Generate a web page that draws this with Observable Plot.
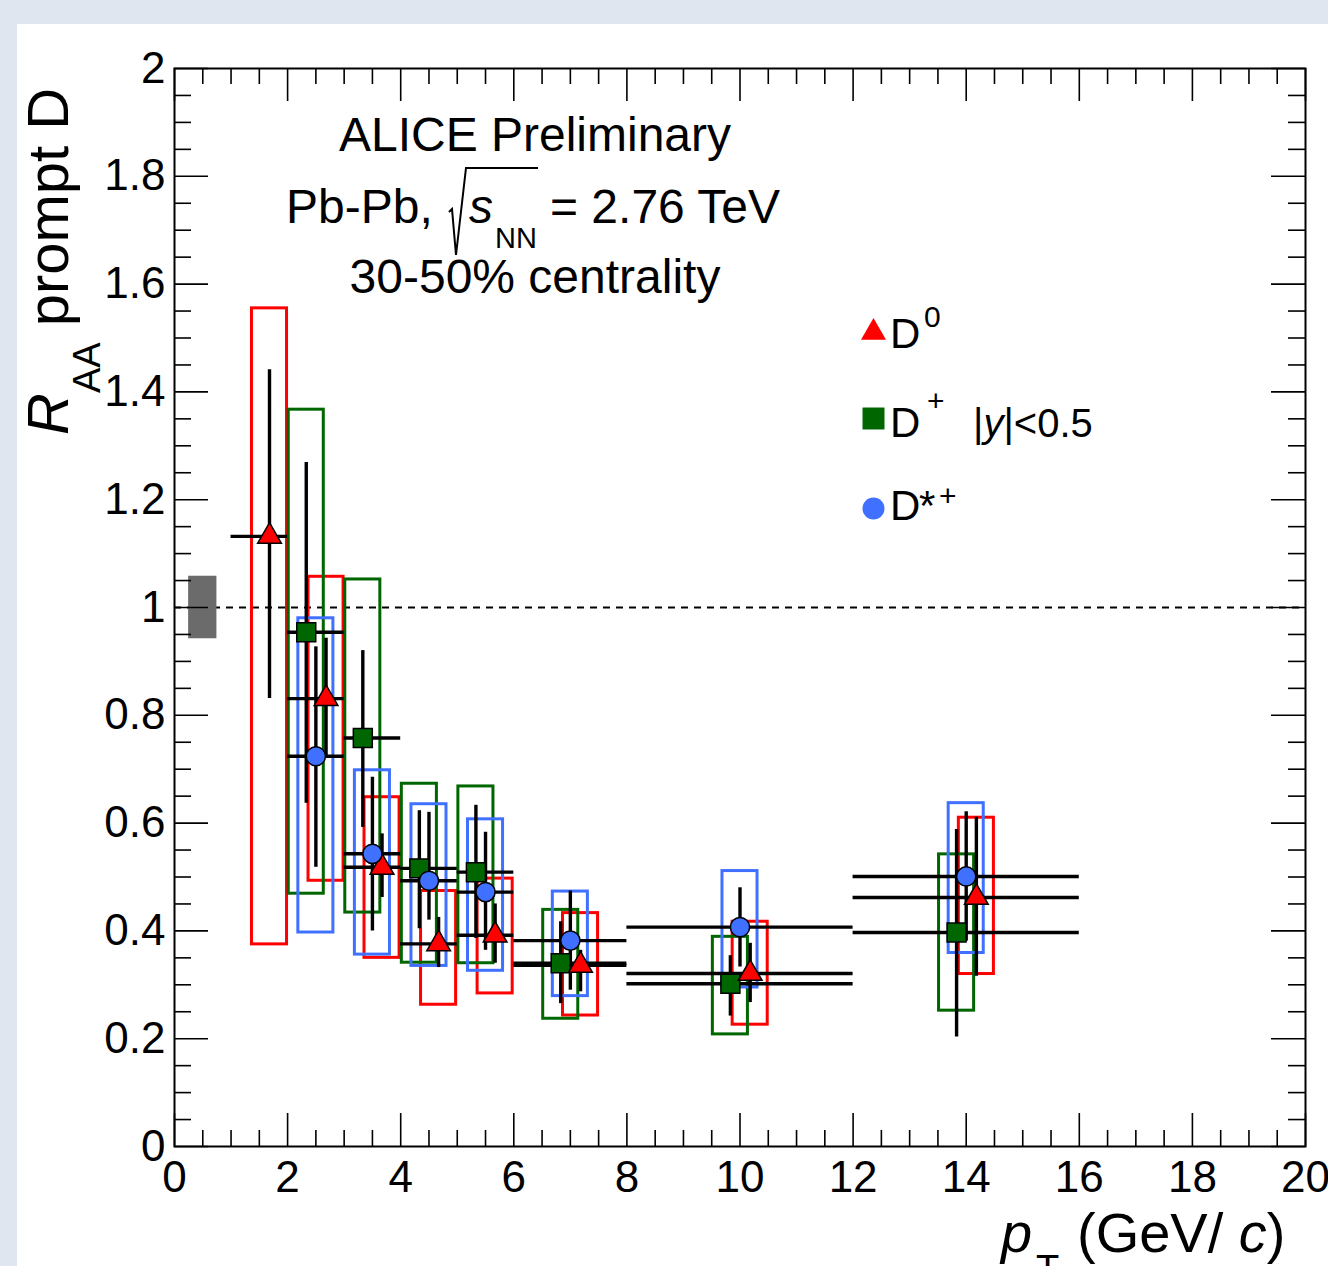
<!DOCTYPE html>
<html><head><meta charset="utf-8">
<script src="https://cdn.jsdelivr.net/npm/d3@7"></script>
<script src="https://cdn.jsdelivr.net/npm/@observablehq/plot@0.6"></script>
<style>
html,body{margin:0;padding:0;background:#dfe6ef;}
#wrap{position:relative;width:1328px;height:1266px;overflow:hidden;background:#dfe6ef;}
#chart{position:absolute;left:17px;top:24px;width:1311px;height:1242px;}
</style></head><body>
<div id="wrap"><div id="chart"></div></div>
<script>
// ---- data ----
// D0
const d0BinLo  = [1, 2, 3, 4, 5, 6, 8, 12];
const d0BinHi  = [2, 3, 4, 5, 6, 8, 12, 16];
const d0X      = [1.68, 2.68, 3.67, 4.67, 5.67, 7.18, 10.18, 14.18];
const d0Y      = [1.132, 0.831, 0.518, 0.376, 0.392, 0.336, 0.321, 0.462];
const d0StatLo = [0.831, 0.722, 0.462, 0.332, 0.340, 0.287, 0.267, 0.316];
const d0StatHi = [1.441, 0.943, 0.580, 0.425, 0.450, 0.364, 0.377, 0.611];
const d0SysLo  = [0.375, 0.493, 0.350, 0.263, 0.284, 0.243, 0.226, 0.320];
const d0SysHi  = [1.555, 1.057, 0.648, 0.474, 0.497, 0.433, 0.417, 0.610];
// D+
const dpBinLo  = [2, 3, 4, 5, 6, 8, 12];
const dpBinHi  = [3, 4, 5, 6, 8, 12, 16];
const dpX      = [2.33, 3.33, 4.33, 5.33, 6.83, 9.83, 13.83];
const dpY      = [0.954, 0.758, 0.516, 0.509, 0.340, 0.302, 0.397];
const dpStatLo = [0.637, 0.592, 0.404, 0.386, 0.265, 0.242, 0.203];
const dpStatHi = [1.269, 0.920, 0.623, 0.633, 0.417, 0.354, 0.588];
const dpSysLo  = [0.469, 0.434, 0.341, 0.340, 0.237, 0.208, 0.252];
const dpSysHi  = [1.367, 1.052, 0.673, 0.668, 0.439, 0.389, 0.542];
// D*+
const dsBinLo  = [2, 3, 4, 5, 6, 8, 12];
const dsBinHi  = [3, 4, 5, 6, 8, 12, 16];
const dsX      = [2.50, 3.50, 4.50, 5.50, 7.00, 10.00, 14.00];
const dsY      = [0.724, 0.543, 0.493, 0.472, 0.382, 0.407, 0.501];
const dsStatLo = [0.518, 0.400, 0.420, 0.364, 0.290, 0.333, 0.381];
const dsStatHi = [0.927, 0.685, 0.620, 0.583, 0.474, 0.480, 0.621];
const dsSysLo  = [0.397, 0.356, 0.335, 0.326, 0.279, 0.295, 0.359];
const dsSysHi  = [0.980, 0.698, 0.635, 0.607, 0.473, 0.511, 0.637];
// normalisation uncertainty box
const normX = [0.25, 0.75];
const normUnc = 0.058;
// ticks
const xTicks = [0, 2, 4, 6, 8, 10, 12, 14, 16, 18, 20];
const yTicks = [0, 0.2, 0.4, 0.6, 0.8, 1, 1.2, 1.4, 1.6, 1.8, 2];

// ---- build tables ----
function table(binLo, binHi, x, y, sLo, sHi, yLo, yHi) {
  return x.map((_, i) => ({binLo: binLo[i], binHi: binHi[i], x: x[i], y: y[i],
    statLo: sLo[i], statHi: sHi[i], sysLo: yLo[i], sysHi: yHi[i]}));
}
const D0 = table(d0BinLo, d0BinHi, d0X, d0Y, d0StatLo, d0StatHi, d0SysLo, d0SysHi);
const DP = table(dpBinLo, dpBinHi, dpX, dpY, dpStatLo, dpStatHi, dpSysLo, dpSysHi);
const DS = table(dsBinLo, dsBinHi, dsX, dsY, dsStatLo, dsStatHi, dsSysLo, dsSysHi);

const RED = "#ff0000", GREEN = "#006600", BLUE = "#3f70ff";
const W = 1311, H = 1242, ML = 157, MT = 44, MR = 23, MB = 120;
const pxPerX = (W - ML - MR) / 20, pxPerY = (H - MT - MB) / 2;
const majY = 33 / pxPerY, minY = 16 / pxPerY;   // x-axis tick lengths in y units
const majX = 34 / pxPerX, minX = 17 / pxPerX;   // y-axis tick lengths in x units
const xMinor = d3.range(0, 40.5, 1).map(d => d / 2).filter(d => d % 2 !== 0);
const yMinor = d3.range(0, 40.5, 1).map(d => d / 20).filter(d => Math.round(d * 100) % 20 !== 0);
const hw = 0.31; // half width of systematic boxes

function boxes(data, color) {
  return Plot.rect(data, {x1: d => d.x - hw, x2: d => d.x + hw, y1: "sysLo", y2: "sysHi",
    fill: "none", stroke: color, strokeWidth: 3});
}
function errs(data) {
  return [
    Plot.ruleX(data, {x: "x", y1: "statLo", y2: "statHi", stroke: "black", strokeWidth: 3.4}),
    Plot.ruleY(data, {y: "y", x1: "binLo", x2: "binHi", stroke: "black", strokeWidth: 3.4})
  ];
}
const tickStyle = {stroke: "black", strokeWidth: 1.6};

const plot = Plot.plot({
  width: W, height: H,
  marginLeft: ML, marginTop: MT, marginRight: MR, marginBottom: MB,
  x: {domain: [0, 20]},
  y: {domain: [0, 2]},
  style: {background: "white", fontFamily: "'Liberation Sans', Arial, Helvetica, sans-serif", color: "black", overflow: "visible"},
  marks: [
    Plot.ruleY([1], {stroke: "black", strokeWidth: 2, strokeDasharray: "7,6"}),
    Plot.rect([normUnc], {x1: normX[0], x2: normX[1], y1: d => 1 - d, y2: d => 1 + d, fill: "#6b6b6b"}),
    boxes(D0, RED), boxes(DP, GREEN), boxes(DS, BLUE),
    ...errs(D0), ...errs(DP), ...errs(DS),
    Plot.dot(DP, {x: "x", y: "y", symbol: "square", r: 10.7, fill: GREEN, stroke: "black", strokeWidth: 1.5}),
    Plot.dot(D0, {x: "x", y: "y", symbol: "triangle", r: 8.8, fill: RED, stroke: "black", strokeWidth: 1.5}),
    Plot.dot(DS, {x: "x", y: "y", symbol: "circle", r: 9.6, fill: BLUE, stroke: "black", strokeWidth: 1.5}),
    // legend symbols
    Plot.dot([0], {frameAnchor: "top-left", dx: 699, dy: 264, symbol: "triangle", r: 9.3, fill: RED}),
    Plot.dot([0], {frameAnchor: "top-left", dx: 699, dy: 350, symbol: "square", r: 12.4, fill: GREEN}),
    Plot.dot([0], {frameAnchor: "top-left", dx: 699, dy: 440, symbol: "circle", r: 11, fill: BLUE}),
    // ticks (all four sides, inward)
    Plot.ruleX(xTicks, {y1: 0, y2: majY, ...tickStyle}),
    Plot.ruleX(xMinor, {y1: 0, y2: minY, ...tickStyle}),
    Plot.ruleX(xTicks, {y1: 2 - majY, y2: 2, ...tickStyle}),
    Plot.ruleX(xMinor, {y1: 2 - minY, y2: 2, ...tickStyle}),
    Plot.ruleY(yTicks, {x1: 0, x2: majX, ...tickStyle}),
    Plot.ruleY(yMinor, {x1: 0, x2: minX, ...tickStyle}),
    Plot.ruleY(yTicks, {x1: 20 - majX, x2: 20, ...tickStyle}),
    Plot.ruleY(yMinor, {x1: 20 - minX, x2: 20, ...tickStyle}),
    Plot.frame({stroke: "black", strokeWidth: 2}),
    Plot.axisX({ticks: xTicks, tickSize: 0, tickPadding: 14, fontSize: 44, label: null, tickFormat: d => String(d)}),
    Plot.axisY({ticks: yTicks, tickSize: 0, tickPadding: 9, fontSize: 44, label: null, tickFormat: d => String(d)})
  ]
});
document.getElementById("chart").appendChild(plot);

// ---- annotations as real SVG text ----
const OX = 17, OY = 24;
const svg = d3.select(plot);
const FF = "'Liberation Sans', Arial, Helvetica, sans-serif";
function T(px, py, str, size, opt = {}) {
  return svg.append("text").attr("x", px - OX).attr("y", py - OY)
    .attr("font-family", FF).attr("font-size", size).attr("fill", "black")
    .attr("font-style", opt.italic ? "italic" : "normal")
    .attr("text-anchor", opt.anchor || "start").text(str);
}
T(535, 151, "ALICE Preliminary", 48, {anchor: "middle"});
T(286, 223, "Pb-Pb,", 48);
svg.append("path").attr("fill", "none").attr("stroke", "black").attr("stroke-width", 2)
  .attr("d", `M${449-OX},${212-OY} L${452-OX},${209-OY} L${456-OX},${255-OY} L${466-OX},${168-OY} L${538-OX},${168-OY}`);
T(469, 223, "s", 48, {italic: true});
T(495, 248, "NN", 29);
T(550, 223, "= 2.76 TeV", 48);
T(535, 293, "30-50% centrality", 48, {anchor: "middle"});

// legend labels
T(890, 348, "D", 42); T(924, 327, "0", 30);
T(890, 437, "D", 42); T(927, 411, "+", 30);
const yl = T(973, 437, "|", 40);
yl.append("tspan").attr("font-style", "italic").text("y");
yl.append("tspan").text("|<0.5");
T(890, 520, "D", 42); T(919, 520, "*", 42); T(939, 506, "+", 30);

// x-axis title
T(1001, 1252, "p", 56, {italic: true});
T(1036, 1282, "T", 38);
const xt = T(1077, 1252, "(GeV/ ", 56);
xt.append("tspan").attr("font-style", "italic").text("c");
xt.append("tspan").text(")");

// y-axis title (rotated)
const yt = svg.append("text").attr("transform", `translate(${68 - OX},${435 - OY}) rotate(-90)`)
  .attr("text-anchor", "start")
  .attr("font-family", FF).attr("font-size", 58).attr("fill", "black");
yt.append("tspan").attr("font-style", "italic").text("R");
yt.append("tspan").attr("font-size", 38).attr("dy", 32).text("AA");
yt.append("tspan").attr("dy", -32).text(" prompt D");
</script>
</body></html>
